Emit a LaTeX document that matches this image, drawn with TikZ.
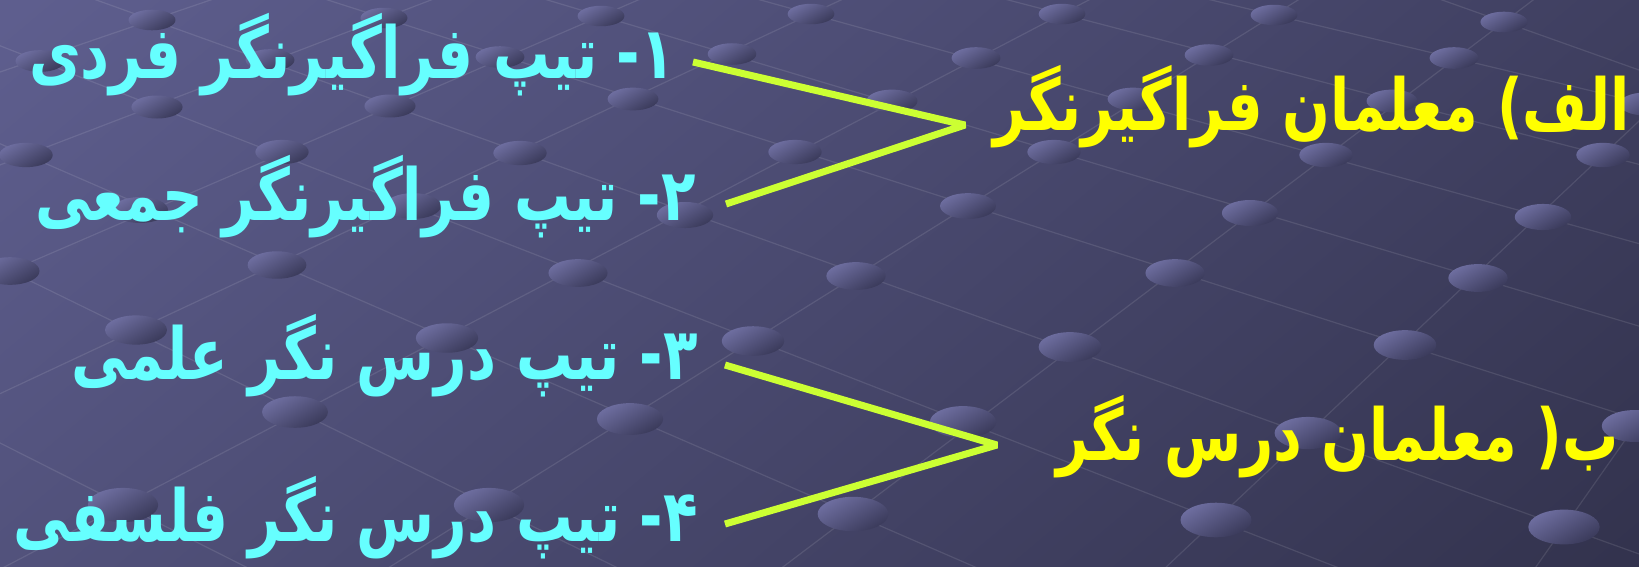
\documentclass[tikz,border=0pt]{standalone}
\usepackage{fontspec}
\newfontfamily\arabicfont[Script=Arabic]{DejaVu Sans}
\TeXXeTstate=1
\usetikzlibrary{calc}

\definecolor{slidetop}{HTML}{5E5E8E}
\definecolor{slidebottom}{HTML}{33334E}
\definecolor{balltop}{HTML}{6E6EA0}
\definecolor{ballbottom}{HTML}{3A3A5A}
\definecolor{typecyan}{HTML}{66FFFF}
\definecolor{teachyellow}{HTML}{FFFF00}
\definecolor{bracegreen}{HTML}{CCFF33}

\begin{document}
\begin{tikzpicture}[x=1pt,y=-1pt,
    gridline/.style={white,opacity=0.10,line width=1.2pt},
    gridball/.style={top color=balltop,bottom color=ballbottom,shading angle=30},
    typelabel/.style={text=typecyan,inner sep=0pt,anchor=base east,yscale=1.27,transform shape,
      font=\arabicfont\bfseries\fontsize{56.5}{67}\selectfont},
    teachlabel/.style={text=teachyellow,inner sep=0pt,anchor=base east,yscale=1.28,transform shape,
      font=\arabicfont\bfseries\fontsize{56}{66}\selectfont},
    brace/.style={bracegreen,line width=7pt,line join=bevel}]

  \useasboundingbox (0,0) rectangle (1639,566);
  \begin{scope}
    \clip (0,0) rectangle (1639,566);
    \shade [top color=slidetop,bottom color=slidebottom,shading angle=40] (-200,-200) rectangle (1839,766);

    \foreach \ax/\ay/\bx/\by in {0/72/152/20, 26/155/384/18, 10/271/601/16, 136/330/811/14,
        123/505/1062/14, 489/505/1274/15, 853/514/1504/22, 1216/520/1603/155, 1564/527/1635/426,
        152/20/1564/527, 157/107/1216/520, 26/155/853/514, 10/271/489/505, 0/443/123/505,
        384/18/1405/345, 601/16/1478/278, 811/14/1543/217, 1062/14/1603/155, 1274/15/1454/58,
        1504/22/1639/70}
      \draw [gridline] ($(\ax,\ay)!-3!(\bx,\by)$) -- ($(\bx,\by)!-3!(\ax,\ay)$);

    \foreach \px/\py in {152/20, 384/18, 601/16, 811/14, 1062/14, 1274/15, 1504/22,
        40/61, 270/60, 500/57, 732/54, 976/58, 1209/55, 1454/58,
        157/107, 390/106, 633/99, 892/101, 1133/99, 1392/101, 1645/104,
        26/155, 282/152, 520/153, 795/152, 1054/152, 1326/155, 1603/155,
        140/210, 413/206, 685/215, 968/206, 1250/213, 1543/217,
        10/271, 277/265, 578/273, 856/276, 1175/273, 1478/278,
        136/330, 447/338, 753/341, 1070/347, 1405/345,
        295/412, 630/419, 963/422, 1308/433, 1635/426,
        123/505, 489/505, 853/514, 1216/520, 1564/527}
      \shade [gridball] (\px,\py) ellipse [x radius={23+0.024*\py}, y radius={10+0.014*\py}];
  \end{scope}

  \node [typelabel] (type_1) at (675,78) {\beginR ۱- تیپ فراگیرنگر فردی\endR};
  \node [typelabel] (type_2) at (696,220) {\beginR ۲- تیپ فراگیرنگر جمعی\endR};
  \node [typelabel] (type_3) at (698,379) {\beginR ۳- تیپ درس نگر علمی\endR};
  \node [typelabel] (type_4) at (698,541) {\beginR ۴- تیپ درس نگر فلسفی\endR};

  \node [teachlabel] (teach_A) at (1630,130) {\beginR الف) معلمان فراگیرنگر\endR};
  \node [teachlabel] (teach_B) at (1619,460) {\beginR ب( معلمان درس نگر\endR};

  \coordinate (apex_A) at (965,125);
  \coordinate (apex_B) at (997,445);

  \draw [brace] ([shift={(18,-16)}]type_1.base east) -- (apex_A) -- ([shift={(30,-16)}]type_2.base east);
  \draw [brace] ([shift={(27,-14)}]type_3.base east) -- (apex_B) -- ([shift={(27,-17)}]type_4.base east);

\end{tikzpicture}
\end{document}
